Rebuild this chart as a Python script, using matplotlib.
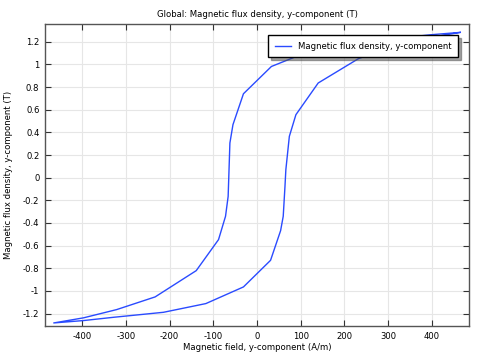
import matplotlib
matplotlib.use("Agg")
import matplotlib.pyplot as plt

# Descending branch (from positive saturation to negative saturation)
H_down = [465, 397, 328, 214, 117, 33, -31, -55, -62, -64, -66, -72, -88, -139, -233, -321, -397, -465]
B_down = [1.283, 1.262, 1.233, 1.189, 1.112, 0.982, 0.741, 0.468, 0.306, 0.07, -0.165, -0.341, -0.547, -0.821, -1.053, -1.165, -1.238, -1.283]
# Ascending branch (from negative saturation back to positive saturation)
H_up = [-465, -397, -328, -214, -117, -31, 31, 54, 60, 64, 66, 74, 89, 140, 233, 321, 397, 465]
B_up = [-1.283, -1.262, -1.233, -1.189, -1.112, -0.965, -0.730, -0.468, -0.341, -0.077, 0.07, 0.365, 0.556, 0.836, 1.053, 1.165, 1.238, 1.283]

x_ticks = [-400, -300, -200, -100, 0, 100, 200, 300, 400]
y_ticks = [-1.2, -1.0, -0.8, -0.6, -0.4, -0.2, 0.0, 0.2, 0.4, 0.6, 0.8, 1.0, 1.2]

H = H_down + H_up[1:]
B = B_down + B_up[1:]

FS = 6.1

def fmt(v):
    return f"{v:g}"

fig = plt.figure(figsize=(4.89, 3.6), dpi=100)
ax = fig.add_axes([45/489, 1 - 326/360, 424/489, 302/360])
ax.plot(H, B, color="#2a4bff", lw=1.0, label="Magnetic flux density, y-component")
ax.set_xlim(-485, 485)
ax.set_ylim(-1.31, 1.357)
ax.set_xticks(x_ticks)
ax.set_xticklabels([fmt(v) for v in x_ticks])
ax.set_yticks(y_ticks)
ax.set_yticklabels([fmt(round(v, 1)) for v in y_ticks])
ax.grid(True, color="#e6e6e6", lw=0.8)
ax.set_axisbelow(True)
ax.tick_params(direction="in", top=True, right=True, labelsize=FS, length=4, color="#333333", pad=4)
for s in ax.spines.values():
    s.set_color("#555555")
    s.set_linewidth(1.0)
ax.set_title("Global: Magnetic flux density, y-component (T)", fontsize=FS, pad=5)
ax.set_xlabel("Magnetic field, y-component (A/m)", fontsize=FS, labelpad=1.5)
ax.set_ylabel("Magnetic flux density, y-component (T)", fontsize=FS, labelpad=7)
leg = ax.legend(loc="upper right", bbox_to_anchor=(0.974, 0.964), borderaxespad=0,
                fontsize=FS, fancybox=False, shadow=True, framealpha=1,
                edgecolor="black", handlelength=1.9, handletextpad=0.8, borderpad=0.8)
leg.get_frame().set_linewidth(1.0)
fig.savefig("out.png", dpi=100)
